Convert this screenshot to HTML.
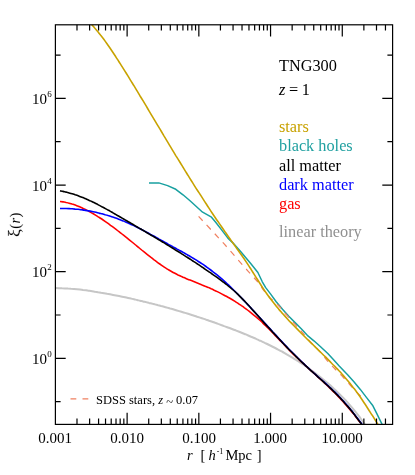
<!DOCTYPE html>
<html><head><meta charset="utf-8"><title>TNG300 correlation function</title><style>
html,body{margin:0;padding:0;background:#fff}
body{width:415px;height:475px;position:relative;overflow:hidden;font-family:"Liberation Serif",serif;color:#000}
.t{position:absolute;white-space:nowrap;line-height:1;will-change:transform;}
.xl{font-size:15px;transform:translateX(-50%);top:431.0px}
.yl{font-size:15px;left:31.7px}
  .yl sup{font-size:9px;position:relative;top:-6.7px;left:0.3px;vertical-align:baseline;line-height:0}
.lg{font-size:16.3px;left:279.2px}
i{font-style:italic}
</style></head><body>
<svg width="415" height="475" viewBox="0 0 415 475" style="position:absolute;left:0;top:0">
<defs><clipPath id="c"><rect x="55.4" y="24.8" width="337.2" height="399.6"/></clipPath></defs>
<g clip-path="url(#c)" fill="none" stroke-linejoin="round" stroke-linecap="butt">
<path d="M35.0 288.4C35.5 288.3 37.0 288.3 38.0 288.3C39.0 288.2 40.0 288.2 41.0 288.2C42.0 288.2 43.0 288.1 44.0 288.1C45.0 288.1 46.0 288.1 47.0 288.1C48.0 288.1 49.0 288.1 50.0 288.1C51.0 288.1 52.0 288.1 53.0 288.1C54.0 288.1 55.0 288.1 56.0 288.1C57.0 288.1 58.0 288.1 59.0 288.2C60.0 288.2 61.0 288.2 62.0 288.3C63.0 288.3 64.0 288.3 65.0 288.4C66.0 288.4 67.0 288.5 68.0 288.6C69.0 288.6 70.0 288.7 71.0 288.8C72.0 288.8 73.0 288.9 74.0 289.0C75.0 289.1 76.0 289.2 77.0 289.3C78.0 289.4 79.0 289.5 80.0 289.6C81.0 289.7 82.0 289.8 83.0 290.0C84.0 290.1 85.0 290.2 86.0 290.3C87.0 290.5 88.0 290.6 89.0 290.8C90.0 290.9 91.1 291.0 92.1 291.2C93.1 291.4 94.1 291.5 95.1 291.7C96.1 291.8 97.1 292.0 98.1 292.2C99.1 292.3 100.1 292.5 101.1 292.7C102.1 292.8 103.1 293.0 104.1 293.2C105.1 293.4 106.1 293.6 107.1 293.8C108.1 293.9 109.1 294.1 110.1 294.3C111.1 294.5 112.1 294.7 113.1 294.9C114.1 295.1 115.1 295.3 116.1 295.5C117.1 295.7 118.1 295.9 119.1 296.1C120.1 296.3 121.1 296.5 122.1 296.7C123.1 296.9 124.1 297.1 125.1 297.3C126.1 297.6 127.1 297.8 128.1 298.0C129.1 298.2 130.1 298.4 131.1 298.6C132.1 298.9 133.1 299.1 134.1 299.3C135.1 299.5 136.1 299.8 137.1 300.0C138.1 300.2 139.1 300.5 140.1 300.7C141.1 300.9 142.1 301.2 143.1 301.4C144.1 301.6 145.1 301.9 146.1 302.1C147.1 302.4 148.1 302.6 149.1 302.9C150.1 303.1 151.1 303.4 152.1 303.6C153.1 303.9 154.1 304.1 155.1 304.4C156.1 304.7 157.1 304.9 158.1 305.2C159.1 305.4 160.1 305.7 161.1 306.0C162.1 306.2 163.1 306.5 164.1 306.8C165.1 307.1 166.1 307.3 167.1 307.6C168.1 307.9 169.1 308.2 170.1 308.5C171.1 308.7 172.1 309.0 173.1 309.3C174.1 309.6 175.1 309.9 176.1 310.2C177.1 310.5 178.1 310.8 179.1 311.1C180.1 311.4 181.1 311.7 182.1 312.0C183.1 312.3 184.1 312.6 185.1 312.9C186.1 313.2 187.1 313.5 188.1 313.8C189.1 314.1 190.1 314.4 191.1 314.7C192.1 315.0 193.1 315.4 194.1 315.7C195.1 316.0 196.1 316.3 197.1 316.7C198.1 317.0 199.1 317.3 200.1 317.6C201.1 318.0 202.2 318.3 203.2 318.6C204.2 319.0 205.2 319.3 206.2 319.7C207.2 320.0 208.2 320.3 209.2 320.7C210.2 321.0 211.2 321.4 212.2 321.7C213.2 322.1 214.2 322.4 215.2 322.8C216.2 323.1 217.2 323.5 218.2 323.9C219.2 324.2 220.2 324.6 221.2 325.0C222.2 325.3 223.2 325.7 224.2 326.1C225.2 326.4 226.2 326.8 227.2 327.2C228.2 327.6 229.2 327.9 230.2 328.3C231.2 328.7 232.2 329.1 233.2 329.5C234.2 329.9 235.2 330.2 236.2 330.6C237.2 331.0 238.2 331.4 239.2 331.8C240.2 332.2 241.2 332.6 242.2 333.0C243.2 333.4 244.2 333.8 245.2 334.2C246.2 334.7 247.2 335.1 248.2 335.5C249.2 335.9 250.2 336.3 251.2 336.8C252.2 337.2 253.2 337.6 254.2 338.0C255.2 338.5 256.2 338.9 257.2 339.4C258.2 339.8 259.2 340.3 260.2 340.7C261.2 341.2 262.2 341.6 263.2 342.1C264.2 342.6 265.2 343.0 266.2 343.5C267.2 344.0 268.2 344.5 269.2 345.0C270.2 345.5 271.2 346.0 272.2 346.5C273.2 347.0 274.2 347.5 275.2 348.0C276.2 348.5 277.2 349.0 278.2 349.6C279.2 350.1 280.2 350.6 281.2 351.2C282.2 351.7 283.2 352.3 284.2 352.8C285.2 353.4 286.2 354.0 287.2 354.6C288.2 355.1 289.2 355.7 290.2 356.3C291.2 356.9 292.2 357.5 293.2 358.1C294.2 358.7 295.2 359.4 296.2 360.0C297.2 360.6 298.2 361.3 299.2 361.9C300.2 362.6 301.2 363.2 302.2 363.9C303.2 364.5 304.2 365.2 305.2 365.9C306.2 366.6 307.2 367.3 308.2 368.0C309.2 368.7 310.2 369.4 311.2 370.2C312.2 370.9 313.3 371.6 314.3 372.4C315.3 373.1 316.3 373.9 317.3 374.7C318.3 375.5 319.3 376.2 320.3 377.0C321.3 377.8 322.3 378.6 323.3 379.5C324.3 380.3 325.3 381.1 326.3 382.0C327.3 382.8 328.3 383.7 329.3 384.6C330.3 385.4 331.3 386.3 332.3 387.2C333.3 388.1 334.3 389.1 335.3 390.0C336.3 390.9 337.3 391.9 338.3 392.9C339.3 393.8 340.3 394.8 341.3 395.9C342.3 396.9 343.3 397.9 344.3 399.0C345.3 400.0 346.3 401.1 347.3 402.2C348.3 403.3 349.3 404.5 350.3 405.6C351.3 406.8 352.3 408.0 353.3 409.2C354.3 410.4 355.3 411.6 356.3 412.9C357.3 414.1 358.3 415.4 359.3 416.7C360.3 418.1 361.3 419.4 362.3 420.8C363.3 422.2 364.3 423.6 365.3 425.1C366.3 426.5 367.8 428.8 368.3 429.5" stroke="#c6c6c6" stroke-width="2.0"/>
<path d="M60.0 201.5C60.6 201.5 62.1 201.7 63.1 201.9C64.1 202.1 65.1 202.2 66.1 202.5C67.1 202.7 68.1 202.9 69.1 203.2C70.1 203.5 71.1 203.8 72.1 204.1C73.2 204.4 74.2 204.7 75.2 205.1C76.2 205.5 77.2 205.8 78.2 206.2C79.2 206.6 80.2 207.1 81.2 207.5C82.2 208.0 83.2 208.4 84.2 208.9C85.2 209.4 86.3 209.9 87.3 210.4C88.3 211.0 89.3 211.5 90.3 212.1C91.3 212.6 92.3 213.2 93.3 213.8C94.3 214.4 95.3 215.0 96.3 215.6C97.3 216.2 98.3 216.9 99.4 217.5C100.4 218.2 101.4 218.8 102.4 219.5C103.4 220.2 104.4 220.9 105.4 221.6C106.4 222.3 107.4 223.0 108.4 223.7C109.4 224.4 110.4 225.2 111.4 225.9C112.5 226.7 113.5 227.4 114.5 228.2C115.5 228.9 116.5 229.7 117.5 230.5C118.5 231.3 119.5 232.0 120.5 232.8C121.5 233.6 122.5 234.4 123.5 235.2C124.5 236.0 125.6 236.8 126.6 237.6C127.6 238.4 128.6 239.3 129.6 240.1C130.6 240.9 131.6 241.7 132.6 242.5C133.6 243.4 134.6 244.2 135.6 245.0C136.6 245.8 137.6 246.7 138.7 247.5C139.7 248.3 140.7 249.1 141.7 250.0C142.7 250.8 143.7 251.6 144.7 252.4C145.7 253.2 146.7 254.0 147.7 254.8C148.7 255.6 149.7 256.4 150.7 257.2C151.8 258.0 152.8 258.8 153.8 259.6C154.8 260.3 155.8 261.1 156.8 261.8C157.8 262.6 158.8 263.3 159.8 264.0C160.8 264.7 161.8 265.4 162.8 266.1C163.8 266.8 164.9 267.5 165.9 268.1C166.9 268.7 167.9 269.4 168.9 270.0C169.9 270.6 170.9 271.2 171.9 271.7C172.9 272.3 173.9 272.8 174.9 273.3C175.9 273.9 176.9 274.4 178.0 274.9C179.0 275.3 180.0 275.8 181.0 276.3C182.0 276.7 183.0 277.2 184.0 277.6C185.0 278.0 186.0 278.5 187.0 278.9C188.0 279.3 189.0 279.7 190.1 280.1C191.1 280.5 192.1 280.9 193.1 281.3C194.1 281.7 195.1 282.1 196.1 282.5C197.1 282.9 198.1 283.3 199.1 283.7C200.1 284.1 201.1 284.5 202.1 284.9C203.2 285.3 204.2 285.7 205.2 286.2C206.2 286.6 207.2 287.0 208.2 287.4C209.2 287.9 210.2 288.3 211.2 288.8C212.2 289.2 213.2 289.7 214.2 290.2C215.2 290.6 216.3 291.1 217.3 291.6C218.3 292.1 219.3 292.6 220.3 293.1C221.3 293.6 222.3 294.1 223.3 294.7C224.3 295.2 225.3 295.7 226.3 296.3C227.3 296.9 228.3 297.4 229.4 298.0C230.4 298.6 231.4 299.2 232.4 299.8C233.4 300.4 234.4 301.0 235.4 301.6C236.4 302.3 237.4 302.9 238.4 303.6C239.4 304.3 240.4 304.9 241.4 305.6C242.5 306.3 243.5 307.0 244.5 307.8C245.5 308.5 246.5 309.2 247.5 310.0C248.5 310.8 249.5 311.5 250.5 312.3C251.5 313.1 252.5 313.9 253.5 314.8C254.5 315.6 255.6 316.5 256.6 317.3C257.6 318.2 258.6 319.1 259.6 320.0C260.6 320.9 261.6 321.8 262.6 322.8C263.6 323.7 264.6 324.7 265.6 325.7C266.6 326.7 267.6 327.7 268.7 328.7C269.7 329.7 270.7 330.7 271.7 331.7C272.7 332.8 273.7 333.8 274.7 334.9C275.7 335.9 276.7 337.0 277.7 338.0C278.7 339.1 279.7 340.1 280.7 341.2C281.8 342.2 282.8 343.3 283.8 344.3C284.8 345.4 285.8 346.4 286.8 347.5C287.8 348.5 288.8 349.5 289.8 350.6C290.8 351.6 291.8 352.6 292.8 353.6C293.8 354.6 294.9 355.6 295.9 356.6C296.9 357.5 297.9 358.5 298.9 359.4C299.9 360.4 300.9 361.4 301.9 362.3C302.9 363.2 303.9 364.2 304.9 365.1C305.9 366.0 307.0 366.9 308.0 367.9C309.0 368.8 310.0 369.7 311.0 370.6C312.0 371.5 313.0 372.4 314.0 373.4C315.0 374.3 316.0 375.2 317.0 376.1C318.0 377.0 319.0 378.0 320.1 378.9C321.1 379.8 322.1 380.7 323.1 381.7C324.1 382.6 325.1 383.6 326.1 384.5C327.1 385.5 328.1 386.4 329.1 387.4C330.1 388.4 331.1 389.3 332.1 390.3C333.2 391.3 334.2 392.3 335.2 393.3C336.2 394.4 337.2 395.4 338.2 396.4C339.2 397.5 340.2 398.5 341.2 399.6C342.2 400.7 343.2 401.8 344.2 402.9C345.2 404.1 346.3 405.2 347.3 406.4C348.3 407.5 349.3 408.7 350.3 409.9C351.3 411.1 352.3 412.3 353.3 413.6C354.3 414.8 355.3 416.1 356.3 417.4C357.3 418.7 358.3 420.1 359.4 421.4C360.4 422.8 361.4 424.2 362.4 425.6C363.4 427.1 364.9 429.3 365.4 430.0" stroke="#ff0000" stroke-width="1.6"/>
<path d="M60.0 208.5C60.6 208.5 62.1 208.5 63.1 208.5C64.1 208.5 65.1 208.5 66.1 208.5C67.1 208.6 68.1 208.6 69.1 208.6C70.1 208.7 71.1 208.8 72.1 208.8C73.1 208.9 74.1 209.0 75.1 209.1C76.1 209.1 77.1 209.2 78.1 209.3C79.1 209.4 80.1 209.6 81.1 209.7C82.1 209.8 83.1 210.0 84.1 210.1C85.1 210.2 86.1 210.4 87.1 210.6C88.1 210.7 89.1 210.9 90.1 211.1C91.1 211.3 92.1 211.5 93.1 211.7C94.1 211.9 95.1 212.1 96.1 212.3C97.1 212.6 98.1 212.8 99.1 213.1C100.1 213.3 101.1 213.6 102.1 213.8C103.1 214.1 104.1 214.4 105.1 214.7C106.1 214.9 107.1 215.2 108.1 215.6C109.1 215.9 110.1 216.2 111.1 216.5C112.1 216.8 113.1 217.2 114.1 217.5C115.1 217.9 116.1 218.2 117.1 218.6C118.1 219.0 119.1 219.3 120.1 219.7C121.1 220.1 122.1 220.5 123.1 220.9C124.1 221.4 125.1 221.8 126.1 222.2C127.1 222.6 128.1 223.1 129.1 223.5C130.1 224.0 131.1 224.4 132.1 224.9C133.1 225.4 134.1 225.9 135.1 226.3C136.1 226.8 137.1 227.3 138.1 227.8C139.1 228.3 140.1 228.8 141.1 229.3C142.1 229.9 143.1 230.4 144.1 230.9C145.1 231.4 146.1 232.0 147.1 232.5C148.1 233.0 149.1 233.6 150.1 234.1C151.1 234.7 152.1 235.2 153.1 235.7C154.1 236.3 155.1 236.8 156.1 237.4C157.1 238.0 158.1 238.5 159.1 239.1C160.1 239.6 161.1 240.2 162.1 240.7C163.1 241.3 164.1 241.9 165.1 242.4C166.1 243.0 167.1 243.5 168.1 244.1C169.1 244.6 170.1 245.2 171.1 245.8C172.1 246.3 173.1 246.9 174.1 247.4C175.1 248.0 176.1 248.5 177.1 249.1C178.1 249.6 179.1 250.2 180.1 250.7C181.1 251.3 182.1 251.8 183.1 252.4C184.1 253.0 185.1 253.5 186.1 254.1C187.1 254.7 188.1 255.2 189.1 255.8C190.1 256.4 191.1 257.0 192.1 257.6C193.1 258.2 194.1 258.8 195.1 259.4C196.1 260.0 197.1 260.6 198.1 261.3C199.1 261.9 200.1 262.6 201.1 263.2C202.1 263.9 203.1 264.5 204.1 265.2C205.1 265.9 206.1 266.6 207.1 267.3C208.1 268.0 209.1 268.8 210.1 269.5C211.1 270.2 212.1 271.0 213.1 271.8C214.1 272.5 215.1 273.3 216.1 274.1C217.1 275.0 218.1 275.8 219.1 276.6C220.1 277.5 221.1 278.3 222.1 279.2C223.1 280.1 224.1 281.0 225.1 281.9C226.1 282.8 227.1 283.8 228.1 284.7C229.1 285.6 230.1 286.6 231.1 287.5C232.1 288.5 233.1 289.5 234.1 290.5C235.1 291.5 236.1 292.5 237.1 293.5C238.1 294.5 239.1 295.5 240.1 296.5C241.1 297.6 242.1 298.6 243.1 299.6C244.1 300.7 245.1 301.7 246.1 302.8C247.1 303.9 248.1 304.9 249.1 306.0C250.1 307.1 251.1 308.1 252.1 309.2C253.1 310.3 254.1 311.4 255.1 312.5C256.1 313.6 257.1 314.7 258.1 315.7C259.1 316.8 260.1 317.9 261.1 319.0C262.1 320.1 263.1 321.2 264.1 322.3C265.1 323.4 266.1 324.5 267.1 325.6C268.1 326.7 269.1 327.8 270.1 328.9C271.1 330.0 272.1 331.1 273.1 332.2C274.1 333.2 275.1 334.3 276.1 335.4C277.1 336.5 278.1 337.6 279.1 338.7C280.1 339.7 281.1 340.8 282.1 341.9C283.1 342.9 284.1 344.0 285.1 345.0C286.1 346.1 287.1 347.1 288.1 348.2C289.1 349.2 290.1 350.3 291.1 351.3C292.1 352.3 293.1 353.3 294.1 354.3C295.1 355.3 296.1 356.3 297.1 357.3C298.1 358.3 299.1 359.3 300.1 360.3C301.1 361.3 302.1 362.2 303.1 363.2C304.1 364.1 305.1 365.1 306.1 366.0C307.1 366.9 308.1 367.8 309.1 368.7C310.1 369.7 311.1 370.6 312.1 371.5C313.1 372.4 314.1 373.2 315.1 374.1C316.1 375.0 317.1 375.9 318.1 376.8C319.1 377.7 320.1 378.6 321.1 379.5C322.1 380.3 323.1 381.2 324.1 382.1C325.1 383.0 326.1 383.9 327.1 384.9C328.1 385.8 329.1 386.7 330.1 387.6C331.1 388.6 332.1 389.5 333.1 390.5C334.1 391.5 335.1 392.4 336.1 393.4C337.1 394.4 338.1 395.4 339.1 396.5C340.1 397.5 341.1 398.6 342.1 399.7C343.1 400.7 344.1 401.8 345.1 403.0C346.1 404.1 347.1 405.3 348.1 406.4C349.1 407.6 350.1 408.8 351.1 410.1C352.1 411.3 353.1 412.6 354.1 413.9C355.1 415.2 356.1 416.5 357.1 417.8C358.1 419.1 359.1 420.4 360.1 421.8C361.1 423.1 362.1 424.5 363.1 425.9C364.1 427.3 365.6 429.3 366.1 430.0" stroke="#0000ff" stroke-width="1.6"/>
<path d="M60.0 190.9C60.6 191.0 62.1 191.2 63.1 191.4C64.1 191.6 65.1 191.9 66.1 192.1C67.1 192.4 68.1 192.6 69.1 192.9C70.1 193.2 71.1 193.5 72.2 193.8C73.2 194.1 74.2 194.4 75.2 194.8C76.2 195.1 77.2 195.4 78.2 195.8C79.2 196.2 80.2 196.6 81.2 197.0C82.2 197.4 83.3 197.8 84.3 198.2C85.3 198.6 86.3 199.1 87.3 199.5C88.3 200.0 89.3 200.4 90.3 200.9C91.3 201.4 92.3 201.8 93.3 202.3C94.3 202.8 95.4 203.3 96.4 203.8C97.4 204.3 98.4 204.9 99.4 205.4C100.4 205.9 101.4 206.4 102.4 207.0C103.4 207.5 104.4 208.1 105.4 208.6C106.5 209.2 107.5 209.7 108.5 210.3C109.5 210.9 110.5 211.4 111.5 212.0C112.5 212.6 113.5 213.1 114.5 213.7C115.5 214.3 116.5 214.9 117.5 215.5C118.6 216.1 119.6 216.6 120.6 217.2C121.6 217.8 122.6 218.4 123.6 219.0C124.6 219.6 125.6 220.2 126.6 220.8C127.6 221.4 128.6 221.9 129.7 222.5C130.7 223.1 131.7 223.7 132.7 224.3C133.7 224.9 134.7 225.5 135.7 226.1C136.7 226.7 137.7 227.3 138.7 227.9C139.7 228.4 140.7 229.0 141.8 229.6C142.8 230.2 143.8 230.8 144.8 231.4C145.8 232.0 146.8 232.6 147.8 233.2C148.8 233.8 149.8 234.4 150.8 235.0C151.8 235.6 152.9 236.2 153.9 236.8C154.9 237.4 155.9 238.0 156.9 238.6C157.9 239.2 158.9 239.8 159.9 240.4C160.9 241.0 161.9 241.6 162.9 242.2C164.0 242.9 165.0 243.5 166.0 244.1C167.0 244.7 168.0 245.3 169.0 245.9C170.0 246.5 171.0 247.2 172.0 247.8C173.0 248.4 174.0 249.0 175.0 249.7C176.1 250.3 177.1 250.9 178.1 251.5C179.1 252.2 180.1 252.8 181.1 253.4C182.1 254.1 183.1 254.7 184.1 255.4C185.1 256.0 186.1 256.7 187.2 257.3C188.2 257.9 189.2 258.6 190.2 259.2C191.2 259.9 192.2 260.6 193.2 261.2C194.2 261.9 195.2 262.5 196.2 263.2C197.2 263.9 198.2 264.5 199.3 265.2C200.3 265.9 201.3 266.6 202.3 267.2C203.3 267.9 204.3 268.6 205.3 269.3C206.3 270.0 207.3 270.7 208.3 271.4C209.3 272.1 210.4 272.8 211.4 273.5C212.4 274.2 213.4 274.9 214.4 275.6C215.4 276.3 216.4 277.0 217.4 277.7C218.4 278.5 219.4 279.2 220.4 279.9C221.4 280.7 222.5 281.4 223.5 282.2C224.5 283.0 225.5 283.7 226.5 284.5C227.5 285.3 228.5 286.1 229.5 287.0C230.5 287.8 231.5 288.7 232.5 289.5C233.6 290.4 234.6 291.3 235.6 292.2C236.6 293.2 237.6 294.1 238.6 295.1C239.6 296.1 240.6 297.1 241.6 298.1C242.6 299.1 243.6 300.2 244.7 301.2C245.7 302.3 246.7 303.4 247.7 304.5C248.7 305.5 249.7 306.6 250.7 307.7C251.7 308.9 252.7 310.0 253.7 311.1C254.7 312.2 255.7 313.3 256.8 314.5C257.8 315.6 258.8 316.7 259.8 317.9C260.8 319.0 261.8 320.1 262.8 321.2C263.8 322.4 264.8 323.5 265.8 324.6C266.8 325.7 267.9 326.8 268.9 327.9C269.9 329.0 270.9 330.1 271.9 331.2C272.9 332.4 273.9 333.4 274.9 334.5C275.9 335.6 276.9 336.7 277.9 337.8C278.9 338.9 280.0 340.0 281.0 341.0C282.0 342.1 283.0 343.2 284.0 344.2C285.0 345.3 286.0 346.3 287.0 347.4C288.0 348.4 289.0 349.5 290.0 350.5C291.1 351.5 292.1 352.5 293.1 353.5C294.1 354.6 295.1 355.6 296.1 356.6C297.1 357.6 298.1 358.5 299.1 359.5C300.1 360.5 301.1 361.5 302.1 362.4C303.2 363.4 304.2 364.3 305.2 365.3C306.2 366.2 307.2 367.2 308.2 368.1C309.2 369.0 310.2 369.9 311.2 370.8C312.2 371.7 313.2 372.6 314.3 373.5C315.3 374.5 316.3 375.3 317.3 376.3C318.3 377.2 319.3 378.1 320.3 379.0C321.3 379.9 322.3 380.8 323.3 381.7C324.3 382.6 325.4 383.5 326.4 384.5C327.4 385.4 328.4 386.3 329.4 387.3C330.4 388.2 331.4 389.2 332.4 390.1C333.4 391.1 334.4 392.1 335.4 393.1C336.4 394.1 337.5 395.1 338.5 396.2C339.5 397.2 340.5 398.3 341.5 399.4C342.5 400.4 343.5 401.6 344.5 402.7C345.5 403.8 346.5 405.0 347.5 406.1C348.6 407.3 349.6 408.5 350.6 409.8C351.6 411.0 352.6 412.3 353.6 413.6C354.6 414.8 355.6 416.2 356.6 417.5C357.6 418.8 358.6 420.2 359.6 421.6C360.7 422.9 361.7 424.4 362.7 425.8C363.7 427.2 365.2 429.4 365.7 430.1" stroke="#000000" stroke-width="1.6"/>
<path d="M149.0 182.9L158.8 182.9L167.6 185.6L175.8 189.3L183.0 194.8L190.0 200.8L196.3 206.5L202.6 212.2L211.5 217.2L215.3 221.7L221.6 229.9L227.9 238.1L232.6 242.6L240.6 251.5L250.9 263.8L257.9 272.5L262.3 281.8L265.7 287.6L270.5 293.9L276.2 301.8L282.5 309.3L288.8 316.3L295.1 322.6L301.0 328.5L307.3 335.3L313.9 340.8L320.3 346.5L327.8 353.5L332.9 359.1L339.2 366.0L347.6 374.8L353.9 381.8L360.3 389.4L366.6 397.6L372.9 405.8L376.7 413.3L382.2 424.6" stroke="#18a0a0" stroke-width="1.5"/>
<path d="M198.6 216.4C202.0 220.0 214.1 233.0 218.8 238.1C223.5 243.2 223.0 242.6 226.9 247.0C230.8 251.4 238.1 259.9 242.0 264.3C245.9 268.7 247.6 270.6 250.3 273.6C253.0 276.6 255.8 279.5 258.1 282.4C260.4 285.3 262.1 288.3 264.1 290.9C266.2 293.5 268.1 295.8 270.4 298.1C272.7 300.5 275.3 302.2 278.0 305.0C280.7 307.8 283.6 311.5 286.6 314.9C289.6 318.3 293.2 322.4 295.9 325.4C298.6 328.4 300.3 330.1 302.8 333.0C305.3 335.9 308.1 339.4 311.0 342.5C313.9 345.6 317.3 348.6 320.0 351.6C322.7 354.7 324.9 357.9 327.4 360.8C329.9 363.7 332.4 366.2 335.0 369.0C337.6 371.8 340.6 374.6 343.2 377.3C345.8 380.0 348.3 383.0 350.4 385.3C352.4 387.6 353.7 389.1 355.5 391.0C357.3 392.9 360.2 395.7 361.2 396.6" stroke="#f08060" stroke-width="1.2" stroke-dasharray="6 5.8"/>
<path d="M91.7 24.6C92.2 25.2 93.7 26.8 94.7 28.0C95.7 29.1 96.7 30.3 97.7 31.5C98.7 32.8 99.7 34.0 100.7 35.3C101.8 36.6 102.8 37.9 103.8 39.3C104.8 40.7 105.8 42.1 106.8 43.5C107.8 44.9 108.8 46.3 109.8 47.8C110.8 49.3 111.8 50.8 112.8 52.3C113.8 53.8 114.8 55.3 115.8 56.8C116.8 58.4 117.8 59.9 118.8 61.5C119.8 63.1 120.9 64.7 121.9 66.3C122.9 67.9 123.9 69.5 124.9 71.1C125.9 72.7 126.9 74.3 127.9 75.9C128.9 77.5 129.9 79.2 130.9 80.8C131.9 82.4 132.9 84.1 133.9 85.7C134.9 87.4 135.9 89.0 136.9 90.7C137.9 92.4 138.9 94.0 139.9 95.7C141.0 97.4 142.0 99.0 143.0 100.7C144.0 102.4 145.0 104.1 146.0 105.7C147.0 107.4 148.0 109.1 149.0 110.8C150.0 112.5 151.0 114.1 152.0 115.8C153.0 117.5 154.0 119.2 155.0 120.9C156.0 122.6 157.0 124.3 158.0 125.9C159.0 127.6 160.1 129.3 161.1 131.0C162.1 132.7 163.1 134.4 164.1 136.1C165.1 137.7 166.1 139.4 167.1 141.1C168.1 142.8 169.1 144.4 170.1 146.1C171.1 147.8 172.1 149.4 173.1 151.1C174.1 152.8 175.1 154.4 176.1 156.1C177.1 157.7 178.1 159.4 179.2 161.0C180.2 162.7 181.2 164.3 182.2 165.9C183.2 167.6 184.2 169.2 185.2 170.8C186.2 172.4 187.2 174.1 188.2 175.7C189.2 177.3 190.2 178.9 191.2 180.5C192.2 182.1 193.2 183.7 194.2 185.3C195.2 186.9 196.2 188.5 197.2 190.0C198.3 191.6 199.3 193.2 200.3 194.7C201.3 196.3 202.3 197.9 203.3 199.4C204.3 201.0 205.3 202.5 206.3 204.0C207.3 205.6 208.3 207.1 209.3 208.6C210.3 210.2 211.3 211.7 212.3 213.2C213.3 214.7 214.3 216.2 215.3 217.7C216.3 219.2 217.4 220.7 218.4 222.1C219.4 223.6 220.4 225.1 221.4 226.5C222.4 228.0 223.4 229.5 224.4 230.9C225.4 232.3 226.4 233.8 227.4 235.2C228.4 236.6 229.4 238.0 230.4 239.5C231.4 240.9 232.4 242.3 233.4 243.7C234.4 245.1 235.4 246.5 236.4 247.9C237.5 249.3 238.5 250.7 239.5 252.2C240.5 253.6 241.5 255.0 242.5 256.5C243.5 257.9 244.5 259.4 245.5 260.9C246.5 262.4 247.5 263.9 248.5 265.4C249.5 267.0 250.5 268.5 251.5 270.1C252.5 271.7 253.5 273.3 254.5 274.9C255.5 276.5 256.6 278.2 257.6 279.8C258.6 281.4 259.6 283.0 260.6 284.5C261.6 286.1 262.6 287.6 263.6 289.1C264.6 290.6 265.6 292.1 266.6 293.5C267.6 294.9 268.6 296.3 269.6 297.7C270.6 299.0 271.6 300.3 272.6 301.6C273.6 302.9 274.6 304.2 275.7 305.4C276.7 306.7 277.7 307.9 278.7 309.1C279.7 310.2 280.7 311.4 281.7 312.6C282.7 313.7 283.7 314.8 284.7 315.9C285.7 317.0 286.7 318.1 287.7 319.2C288.7 320.3 289.7 321.4 290.7 322.4C291.7 323.5 292.7 324.5 293.7 325.5C294.8 326.6 295.8 327.6 296.8 328.6C297.8 329.7 298.8 330.7 299.8 331.7C300.8 332.7 301.8 333.7 302.8 334.7C303.8 335.7 304.8 336.7 305.8 337.7C306.8 338.7 307.8 339.7 308.8 340.7C309.8 341.7 310.8 342.7 311.8 343.7C312.8 344.6 313.9 345.6 314.9 346.6C315.9 347.6 316.9 348.6 317.9 349.6C318.9 350.5 319.9 351.5 320.9 352.5C321.9 353.5 322.9 354.5 323.9 355.5C324.9 356.5 325.9 357.4 326.9 358.4C327.9 359.4 328.9 360.4 329.9 361.4C330.9 362.4 331.9 363.5 332.9 364.5C334.0 365.5 335.0 366.5 336.0 367.6C337.0 368.6 338.0 369.7 339.0 370.8C340.0 371.8 341.0 372.9 342.0 374.1C343.0 375.2 344.0 376.3 345.0 377.5C346.0 378.6 347.0 379.8 348.0 381.0C349.0 382.2 350.0 383.5 351.0 384.7C352.0 386.0 353.1 387.3 354.1 388.6C355.1 389.9 356.1 391.2 357.1 392.6C358.1 394.0 359.1 395.4 360.1 396.8C361.1 398.3 362.1 399.8 363.1 401.2C364.1 402.7 365.1 404.3 366.1 405.8C367.1 407.3 368.1 408.9 369.1 410.5C370.1 412.0 371.1 413.6 372.2 415.2C373.2 416.8 374.2 418.4 375.2 420.0C376.2 421.6 377.2 423.2 378.2 424.8C379.2 426.4 380.7 428.8 381.2 429.6" stroke="#c8a200" stroke-width="1.6"/>
</g>
<path d="M76.99 424.40v-5.8M76.99 24.80v5.8M89.62 424.40v-5.8M89.62 24.80v5.8M98.58 424.40v-5.8M98.58 24.80v5.8M105.53 424.40v-5.8M105.53 24.80v5.8M111.21 424.40v-5.8M111.21 24.80v5.8M116.01 424.40v-5.8M116.01 24.80v5.8M120.17 424.40v-5.8M120.17 24.80v5.8M123.84 424.40v-5.8M123.84 24.80v5.8M127.12 424.40v-11.6M127.12 24.80v11.6M148.71 424.40v-5.8M148.71 24.80v5.8M161.34 424.40v-5.8M161.34 24.80v5.8M170.30 424.40v-5.8M170.30 24.80v5.8M177.25 424.40v-5.8M177.25 24.80v5.8M182.93 424.40v-5.8M182.93 24.80v5.8M187.73 424.40v-5.8M187.73 24.80v5.8M191.89 424.40v-5.8M191.89 24.80v5.8M195.56 424.40v-5.8M195.56 24.80v5.8M198.84 424.40v-11.6M198.84 24.80v11.6M220.43 424.40v-5.8M220.43 24.80v5.8M233.06 424.40v-5.8M233.06 24.80v5.8M242.02 424.40v-5.8M242.02 24.80v5.8M248.97 424.40v-5.8M248.97 24.80v5.8M254.65 424.40v-5.8M254.65 24.80v5.8M259.45 424.40v-5.8M259.45 24.80v5.8M263.61 424.40v-5.8M263.61 24.80v5.8M267.28 424.40v-5.8M267.28 24.80v5.8M270.56 424.40v-11.6M270.56 24.80v11.6M292.15 424.40v-5.8M292.15 24.80v5.8M304.78 424.40v-5.8M304.78 24.80v5.8M313.74 424.40v-5.8M313.74 24.80v5.8M320.69 424.40v-5.8M320.69 24.80v5.8M326.37 424.40v-5.8M326.37 24.80v5.8M331.17 424.40v-5.8M331.17 24.80v5.8M335.33 424.40v-5.8M335.33 24.80v5.8M339.00 424.40v-5.8M339.00 24.80v5.8M342.28 424.40v-11.6M342.28 24.80v11.6M363.87 424.40v-5.8M363.87 24.80v5.8M376.50 424.40v-5.8M376.50 24.80v5.8M385.46 424.40v-5.8M385.46 24.80v5.8M55.40 401.68h5.2M392.60 401.68h-5.2M55.40 358.35h10.3M392.60 358.35h-10.3M55.40 315.02h5.2M392.60 315.02h-5.2M55.40 271.69h10.3M392.60 271.69h-10.3M55.40 228.36h5.2M392.60 228.36h-5.2M55.40 185.03h10.3M392.60 185.03h-10.3M55.40 141.70h5.2M392.60 141.70h-5.2M55.40 98.37h10.3M392.60 98.37h-10.3M55.40 55.04h5.2M392.60 55.04h-5.2" stroke="#000" stroke-width="1.2" fill="none"/>
<rect x="55.4" y="24.8" width="337.2" height="399.6" fill="none" stroke="#000" stroke-width="1.2"/>
<path d="M70.5 398.8h5.8M82.5 398.8h5.8" stroke="#f08060" stroke-width="1.2" fill="none"/>
</svg>
<div class="t xl" style="left:55.1px">0.001</div>
<div class="t xl" style="left:126.8px">0.010</div>
<div class="t xl" style="left:198.5px">0.100</div>
<div class="t xl" style="left:270.3px">1.000</div>
<div class="t xl" style="left:342.0px">10.000</div>
<div class="t yl" style="top:352.1px">10<sup>0</sup></div>
<div class="t yl" style="top:265.4px">10<sup>2</sup></div>
<div class="t yl" style="top:178.7px">10<sup>4</sup></div>
<div class="t yl" style="top:92.1px">10<sup>6</sup></div>
<div class="t lg" style="top:57.5px;color:#000">TNG300</div>
<div class="t lg" style="top:81.5px;color:#000"><span style="word-spacing:-0.5px"><i>z</i> = 1</span></div>
<div class="t lg" style="top:119.1px;color:#c8a200">stars</div>
<div class="t lg" style="top:138.3px;color:#20a0a0">black holes</div>
<div class="t lg" style="top:157.5px;color:#000">all matter</div>
<div class="t lg" style="top:176.6px;color:#0000ff">dark matter</div>
<div class="t lg" style="top:195.8px;color:#ff0000">gas</div>
<div class="t lg" style="top:223.9px;color:#909090">linear theory</div>
<div class="t" style="font-size:12.5px;left:95.5px;top:393.9px">SDSS stars, <i>z</i> <span style="position:relative;top:1.7px">~</span> 0.07</div>
<div class="t" style="font-size:14.5px;left:186.5px;top:447.5px"><i>r</i><span style="margin-left:7.8px">[</span><span style="margin-left:3.3px"><i>h</i></span><sup style="font-size:7.8px;position:relative;top:-6px;vertical-align:baseline;line-height:0;margin-left:0.8px">-1</sup><span style="margin-left:2.3px">Mpc</span><span style="margin-left:4.7px">]</span></div>
<div class="t" style="font-size:14.5px;left:17.8px;top:237.4px;transform-origin:0 0;transform:rotate(-90deg) translateY(-12.1px);letter-spacing:0.4px"><span style="font-size:17.5px">ξ</span>(<i>r</i>)</div>
</body></html>
